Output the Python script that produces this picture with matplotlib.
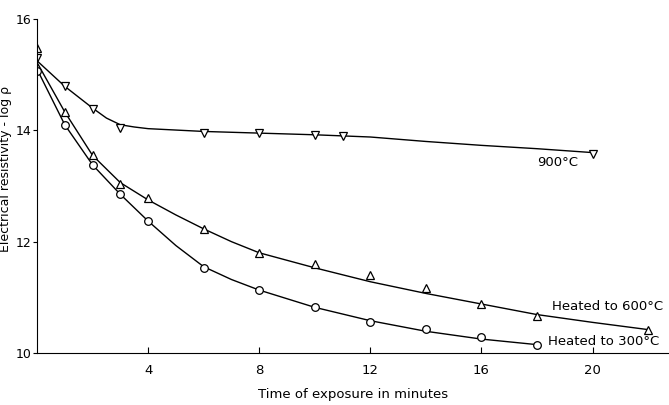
import numpy as np
import matplotlib.pyplot as plt

# marker readings
t600 = [0, 1, 2, 3, 4, 6, 8, 10, 12, 14, 16, 18, 22]
r600 = [15.48, 14.33, 13.55, 13.03, 12.78, 12.23, 11.79, 11.59, 11.40, 11.16, 10.88, 10.66, 10.41]

t300 = [0, 1, 2, 3, 4, 6, 8, 10, 12, 14, 16, 18]
r300 = [15.07, 14.1, 13.38, 12.85, 12.37, 11.53, 11.14, 10.82, 10.56, 10.44, 10.29, 10.14]

t900 = [0, 1, 2, 3, 6, 8, 10, 11, 20]
r900 = [15.3, 14.79, 14.38, 14.05, 13.96, 13.95, 13.91, 13.9, 13.57]

# hand-drawn curves
c600_t = [0, 1, 2, 3, 4, 5, 6, 7, 8, 10, 12, 14, 16, 18, 20, 22]
c600_r = [15.22, 14.33, 13.55, 13.06, 12.75, 12.48, 12.23, 12.0, 11.8, 11.53, 11.28, 11.07, 10.88, 10.69, 10.55, 10.42]

c300_t = [0, 1, 2, 3, 4, 5, 6, 7, 8, 10, 12, 14, 16, 18]
c300_r = [15.1, 14.1, 13.38, 12.85, 12.37, 11.93, 11.55, 11.32, 11.13, 10.82, 10.58, 10.39, 10.25, 10.15]

c900_t = [0, 1, 2, 2.5, 3, 3.5, 4, 6, 8, 10, 12, 14, 16, 18, 20]
c900_r = [15.25, 14.79, 14.4, 14.22, 14.1, 14.06, 14.03, 13.98, 13.95, 13.92, 13.88, 13.8, 13.73, 13.67, 13.6]

fig = plt.figure(figsize=(6.69, 4.05), dpi=100)
ax = fig.add_axes([0.0553, 0.1284, 0.9447, 0.8247])

ax.plot(c600_t, c600_r, color='black', lw=1.0)
ax.plot(c300_t, c300_r, color='black', lw=1.0)
ax.plot(c900_t, c900_r, color='black', lw=1.0)

mk = dict(linestyle='none', mfc='white', mec='black', mew=0.9, ms=5.5)
ax.plot(t600, r600, marker='^', **mk)
ax.plot(t300, r300, marker='o', **mk)
ax.plot(t900, r900, marker='v', **mk)

ax.text(18.75, 13.43, '900°C', ha='center', va='center', fontsize=9.5)
ax.text(18.55, 10.83, 'Heated to 600°C', ha='left', va='center', fontsize=9.5)
ax.text(18.4, 10.2, 'Heated to 300°C', ha='left', va='center', fontsize=9.5)

ax.set_xlim(0, 22.75)
ax.set_ylim(10, 16)
ax.set_xticks([4, 8, 12, 16, 20])
ax.set_yticks([10, 12, 14, 16])
ax.spines['top'].set_visible(False)
ax.spines['right'].set_visible(False)
ax.tick_params(axis='x', direction='in', length=4, labelsize=9.5, pad=8)
ax.tick_params(axis='y', direction='out', length=3, labelsize=9, pad=1)
ax.set_xlabel('Time of exposure in minutes', fontsize=9.5, labelpad=8)
ax.set_ylabel('Electrical resistivity - log ρ', fontsize=9)
ax.yaxis.set_label_coords(-0.039, 0.55)

fig.savefig('out.png', dpi=100)
